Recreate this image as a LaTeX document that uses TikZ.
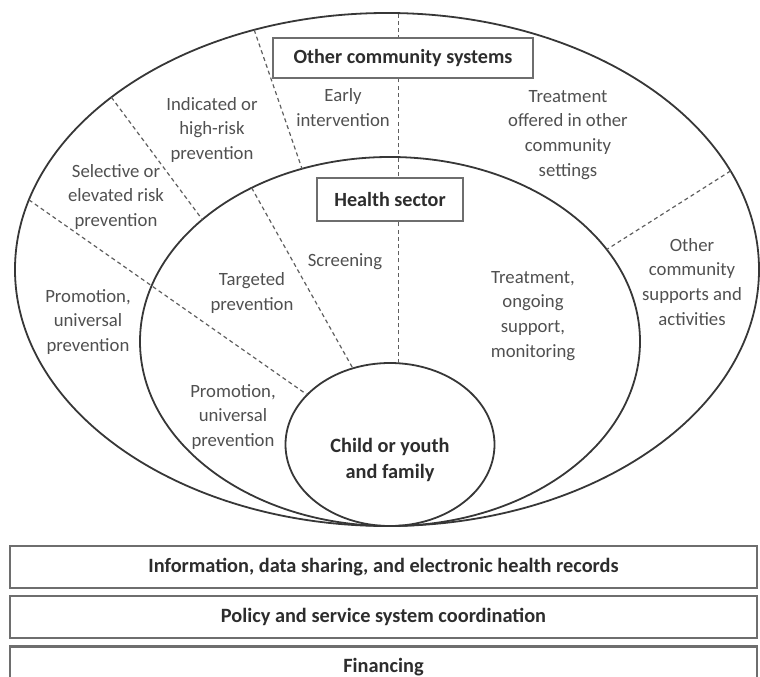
\documentclass[tikz,border=0pt]{standalone}
\usepackage{fontspec}
\setmainfont{Carlito}
\usepackage{tikz}
\usetikzlibrary{positioning,shapes.geometric}
\definecolor{ringline}{RGB}{55,55,55}
\definecolor{splitgray}{RGB}{95,95,95}
\definecolor{boxgray}{RGB}{110,110,110}
\definecolor{labelgray}{RGB}{80,80,80}
\definecolor{titlegray}{RGB}{45,45,45}

\begin{document}
\begin{tikzpicture}[
    x=0.5bp, y=-0.5bp,
    node distance=3bp,
    ring/.style={ellipse, draw=ringline, line width=0.9bp, inner sep=0pt, outer sep=0pt},
    divider/.style={draw=splitgray, line width=0.6bp, dash pattern=on 2bp off 1.6bp},
    zone/.style={align=center, text=labelgray, inner sep=1pt,
        font=\fontsize{9.4}{12.5}\selectfont},
    sysbox/.style={rectangle, draw=boxgray, line width=1bp, fill=white,
        text=titlegray, font=\bfseries\fontsize{10.1}{12}\selectfont},
    footbox/.style={rectangle, draw=boxgray, line width=1.1bp, fill=white,
        minimum width=373.5bp, minimum height=21bp, text=titlegray,
        font=\bfseries\fontsize{10.2}{11}\selectfont}
]
\path[use as bounding box, clip] (0,0) rectangle (760,677);

% nested settings
\node[ring, minimum width=372bp, minimum height=256.5bp] (outer) at (387,269.5) {};
\node[ring, minimum width=250bp, minimum height=184.5bp] (health) at (390,341.5) {};
\node[ring, minimum width=104.5bp, minimum height=81.5bp] (child) at (390,444.5) {};

% service zones
\draw[divider] (outer.119.5) -- (health.117.8);
\draw[divider] (outer.148.3) -- (health.147);
\draw[divider] (outer.169.3) -- (child.149);
\draw[divider] (health.132) -- (child.116.3);
\draw[divider] (outer.16.4) -- (health.23.2);
\draw[divider] (child.84) -- (child.84 |- outer.north);

\node[sysbox, minimum width=130bp, minimum height=20bp] (others) at (403,58.5) {Other community systems};
\node[sysbox, minimum width=73bp, minimum height=21.5bp] (hsector) at (390,199.5) {Health sector};

\node[zone] (early) at (343,108) {Early\\intervention};
\node[zone] (indicated) at (212,130) {Indicated or\\high-risk\\prevention};
\node[zone] (selective) at (116,197) {Selective or\\elevated risk\\prevention};
\node[zone] (promoout) at (88,322) {Promotion,\\universal\\prevention};
\node[zone] (commtreat) at (568,135) {Treatment\\offered in other\\community\\settings};
\node[zone] (supports) at (692,282) {Other\\community\\supports and\\activities};
\node[zone] (targeted) at (252,293) {Targeted\\prevention};
\node[zone] (screen) at (345,262) {Screening};
\node[zone] (treat) at (533,316) {Treatment,\\ongoing\\support,\\monitoring};
\node[zone] (promoin) at (233,417) {Promotion,\\universal\\prevention};
\node[zone, text=titlegray, font=\bfseries\fontsize{10.2}{13.5}\selectfont] (family) at (390,460) {Child or youth\\and family};

% supporting layers
\node[footbox] (info) at (383.5,567) {Information, data sharing, and electronic health records};
\node[footbox, below=of info] (policy) {Policy and service system coordination};
\node[footbox, below=of policy] (funds) {Financing};
\end{tikzpicture}
\end{document}
